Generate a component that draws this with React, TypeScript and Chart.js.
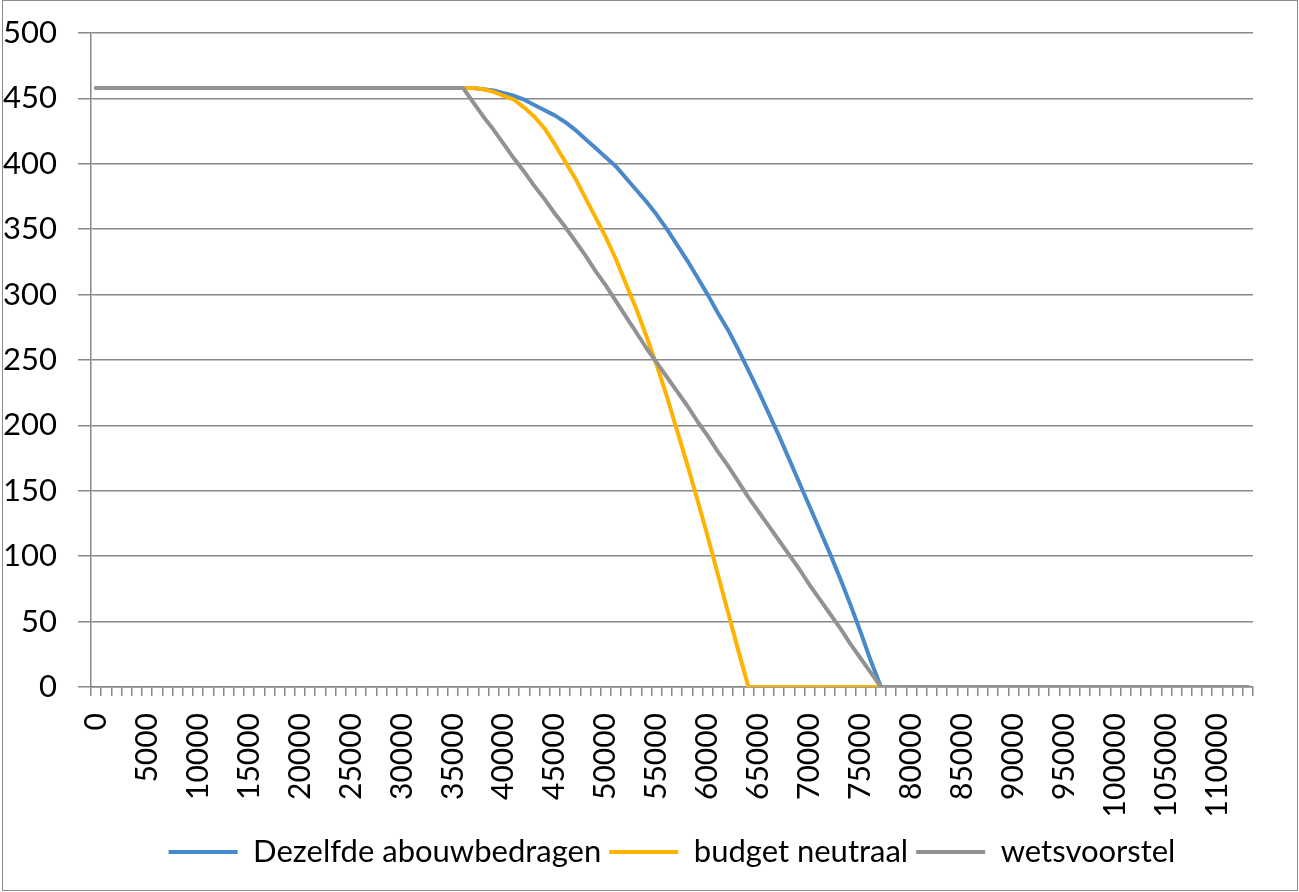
import { useEffect, useRef } from "react";
import { Chart, registerables } from "chart.js";

Chart.register(...registerables);

const categories = [
  0, 1000, 2000, 3000, 4000, 5000, 6000, 7000, 8000, 9000,
  10000, 11000, 12000, 13000, 14000, 15000, 16000, 17000, 18000, 19000,
  20000, 21000, 22000, 23000, 24000, 25000, 26000, 27000, 28000, 29000,
  30000, 31000, 32000, 33000, 34000, 35000, 36000, 37000, 38000, 39000,
  40000, 41000, 42000, 43000, 44000, 45000, 46000, 47000, 48000, 49000,
  50000, 51000, 52000, 53000, 54000, 55000, 56000, 57000, 58000, 59000,
  60000, 61000, 62000, 63000, 64000, 65000, 66000, 67000, 68000, 69000,
  70000, 71000, 72000, 73000, 74000, 75000, 76000, 77000, 78000, 79000,
  80000, 81000, 82000, 83000, 84000, 85000, 86000, 87000, 88000, 89000,
  90000, 91000, 92000, 93000, 94000, 95000, 96000, 97000, 98000, 99000,
  100000, 101000, 102000, 103000, 104000, 105000, 106000, 107000, 108000, 109000,
  110000, 111000, 112000, 113000,
];

const dezelfdeAbouwbedragen = [
  458, 458, 458, 458, 458, 458, 458, 458, 458, 458,
  458, 458, 458, 458, 458, 458, 458, 458, 458, 458,
  458, 458, 458, 458, 458, 458, 458, 458, 458, 458,
  458, 458, 458, 458, 458, 458, 458, 458, 457, 456,
  454, 452, 449, 445, 441, 437, 432, 426, 419, 412,
  405, 398, 389, 380, 371, 361, 350, 338, 326, 313,
  300, 286, 273, 258, 242, 226, 209, 192, 174, 156,
  138, 120, 102, 83, 63, 42, 20, 0, 0, 0,
  0, 0, 0, 0, 0, 0, 0, 0, 0, 0,
  0, 0, 0, 0, 0, 0, 0, 0, 0, 0,
  0, 0, 0, 0, 0, 0, 0, 0, 0, 0,
  0, 0, 0, 0,
];

const budgetNeutraal = [
  458, 458, 458, 458, 458, 458, 458, 458, 458, 458,
  458, 458, 458, 458, 458, 458, 458, 458, 458, 458,
  458, 458, 458, 458, 458, 458, 458, 458, 458, 458,
  458, 458, 458, 458, 458, 458, 458, 458, 457, 455,
  452, 449, 443, 436, 427, 415, 402, 389, 374, 359,
  344, 327, 308, 289, 268, 246, 222, 196, 170, 143,
  115, 86, 57, 28, 0, 0, 0, 0, 0, 0,
  0, 0, 0, 0, 0, 0, 0, 0, 0, 0,
  0, 0, 0, 0, 0, 0, 0, 0, 0, 0,
  0, 0, 0, 0, 0, 0, 0, 0, 0, 0,
  0, 0, 0, 0, 0, 0, 0, 0, 0, 0,
  0, 0, 0, 0,
];

const wetsvoorstel = [
  458, 458, 458, 458, 458, 458, 458, 458, 458, 458,
  458, 458, 458, 458, 458, 458, 458, 458, 458, 458,
  458, 458, 458, 458, 458, 458, 458, 458, 458, 458,
  458, 458, 458, 458, 458, 458, 458, 447, 436, 426,
  415, 404, 394, 383, 373, 362, 352, 341, 330, 318,
  307, 295, 283, 271, 259, 248, 237, 226, 215, 203,
  192, 180, 169, 157, 145, 134, 123, 112, 101, 90,
  78, 67, 56, 45, 33, 22, 11, 0, 0, 0,
  0, 0, 0, 0, 0, 0, 0, 0, 0, 0,
  0, 0, 0, 0, 0, 0, 0, 0, 0, 0,
  0, 0, 0, 0, 0, 0, 0, 0, 0, 0,
  0, 0, 0, 0,
];

const seriesNames = ["Dezelfde abouwbedragen", "budget neutraal", "wetsvoorstel"];
const seriesColors = ["#4A89C9", "#FFB300", "#929292"];
const yMin = 0;
const yMax = 500;
const yStep = 50;
const labelEvery = 5;

export default function App() {
  const ref = useRef<HTMLCanvasElement>(null);

  useEffect(() => {
    if (!ref.current) return;
    Chart.defaults.font.family = "Lato";
    Chart.defaults.color = "#000";
    const series = [dezelfdeAbouwbedragen, budgetNeutraal, wetsvoorstel];
    const drawOrder = [2, 1, 0];
    const gridColor = "#888888";
    const chart = new Chart(ref.current, {
      type: "line",
      data: {
        labels: categories.map((c) => String(c)),
        datasets: series.map((d, i) => ({
          label: seriesNames[i],
          data: d,
          borderColor: seriesColors[i],
          backgroundColor: seriesColors[i],
          borderWidth: 4,
          pointRadius: 0,
          tension: 0,
          borderJoinStyle: "round",
          borderCapStyle: "round",
          order: drawOrder[i],
          fill: false,
        })),
      },
      options: {
        animation: false,
        responsive: false,
        maintainAspectRatio: false,
        layout: { padding: { top: 33, right: 0, bottom: 14.5, left: 0 } },
        plugins: {
          tooltip: { enabled: false },
          legend: {
            position: "bottom",
            fullSize: false,
            labels: {
              font: { size: 31, family: "Lato" },
              color: "#000",
              usePointStyle: true,
              pointStyle: "line",
              pointStyleWidth: 69,
              padding: 8,
              sort: (a: any, b: any) => a.datasetIndex - b.datasetIndex,
            },
          },
        },
        scales: {
          x: {
            type: "category",
            offset: true,
            grid: {
              display: true,
              drawOnChartArea: false,
              drawTicks: true,
              tickLength: 9,
              offset: true,
              color: gridColor,
              lineWidth: 1.5,
            },
            border: { display: true, color: gridColor, width: 1.5 },
            ticks: {
              autoSkip: false,
              maxRotation: 90,
              minRotation: 90,
              padding: 17,
              font: { size: 30, family: "Lato" },
              color: "#000",
              callback: function (this: any, val: any, idx: number) {
                return idx % labelEvery === 0 ? this.getLabelForValue(val) : "";
              },
            },
            afterFit: (s: any) => {
              s.height = 141.5;
              s.paddingLeft = 0;
              s.paddingRight = 0;
            },
          },
          y: {
            type: "linear",
            min: yMin,
            max: yMax,
            grid: {
              color: gridColor,
              lineWidth: 1.5,
              drawTicks: true,
              tickLength: 13,
            },
            border: { display: true, color: gridColor, width: 1.5 },
            ticks: {
              stepSize: yStep,
              padding: 21,
              font: { size: 31, family: "Lato" },
              color: "#000",
            },
            afterFit: (s: any) => {
              s.width = 91;
              s.paddingTop = 0;
              s.paddingBottom = 0;
            },
          },
          y2: {
            type: "linear",
            position: "right",
            display: true,
            grid: { display: false, drawTicks: false },
            border: { display: false },
            ticks: { display: false },
            afterFit: (s: any) => {
              s.width = 46;
              s.paddingTop = 0;
              s.paddingBottom = 0;
            },
          },
        },
      },
    });
    return () => chart.destroy();
  }, []);

  return (
    <div style={{ position: "absolute", left: 0, top: 0, width: 1299, height: 892, background: "#fff" }}>
      <canvas ref={ref} width={1299} height={892} style={{ width: 1299, height: 892, display: "block" }} />
      <div
        style={{
          position: "absolute",
          left: 2,
          top: 0,
          width: 1296,
          height: 891,
          border: "1.5px solid #8c8c8c",
          boxSizing: "border-box",
          pointerEvents: "none",
        }}
      />
    </div>
  );
}
